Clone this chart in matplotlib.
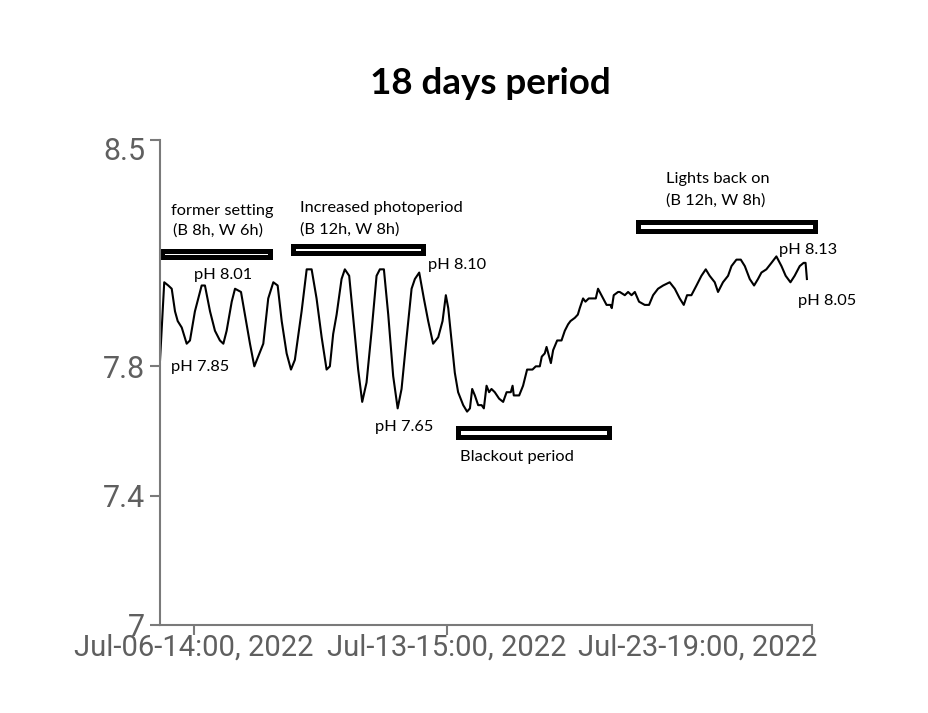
import matplotlib
matplotlib.use("Agg")
import matplotlib.pyplot as plt
import matplotlib.dates as mdates
from matplotlib.patches import Rectangle
from matplotlib.transforms import ScaledTranslation
from datetime import datetime, timedelta

# ---- data ----
start_time = datetime(2022, 7, 5, 15, 0)
hours = [0.3, 3.1, 5.8, 8.1, 10.3, 12.1, 14.8, 18.1, 20.3, 23.6, 28.1, 30.3, 33.7, 37.0,
         40.3, 42.6, 44.8, 48.2, 50.4, 54.4, 57.0, 60.4, 63.3, 65.9, 69.3, 72.6, 76.0, 78.9,
         81.6, 84.9, 87.8, 90.4, 94.9, 98.3, 101.6, 104.9, 108.3, 111.6, 113.8, 116.0, 118.3,
         121.6, 123.8, 126.7, 129.4, 132.7, 135.4, 138.3, 141.7, 145.0, 147.2, 149.9, 152.8,
         156.1, 159.1, 161.7, 165.1, 168.4, 170.6, 173.5, 176.6, 179.5, 182.8, 186.2, 189.1,
         191.3, 192.9, 195.1, 197.3, 199.5, 202.9, 205.5, 207.4, 208.9, 210.7, 212.9, 215.2,
         216.7, 218.5, 220.2, 221.8, 224.0, 226.9, 229.6, 231.9, 234.7, 235.9, 236.7, 240.3,
         242.9, 245.6, 249.2, 251.4, 254.1, 255.4, 257.4, 258.6, 261.5, 263.0, 265.7, 267.5,
         268.6, 270.8, 273.0, 274.6, 277.5, 279.5, 280.8, 283.0, 284.6, 286.8, 289.7, 291.5,
         293.0, 296.4, 298.7, 301.3, 302.2, 303.5, 306.4, 307.5, 310.9, 313.1, 315.4, 317.6,
         320.4, 324.2, 327.1, 329.8, 333.1, 336.5, 340.9, 344.3, 347.6, 350.3, 352.5, 355.4,
         358.8, 362.1, 365.0, 367.6, 371.0, 373.2, 376.5, 379.9, 382.2, 385.5, 388.4, 391.1,
         394.4, 397.3, 399.9, 402.2, 405.5, 408.9, 412.2, 415.6, 418.4, 421.6, 424.4, 427.8,
         430.4, 431.7, 432.6]
ph = [7.82, 8.06, 8.05, 8.04, 7.97, 7.94, 7.92, 7.87, 7.88, 7.97, 8.05, 8.05, 7.97, 7.91,
      7.88, 7.87, 7.91, 8.00, 8.04, 8.03, 7.96, 7.87, 7.80, 7.83, 7.87, 8.01, 8.06, 8.05,
      7.94, 7.84, 7.79, 7.82, 7.97, 8.10, 8.10, 8.01, 7.89, 7.79, 7.80, 7.90, 7.96,
      8.07, 8.10, 8.08, 7.95, 7.79, 7.69, 7.75, 7.91, 8.08, 8.10, 8.10, 7.96,
      7.77, 7.67, 7.73, 7.89, 8.04, 8.07, 8.09, 8.01, 7.94, 7.87, 7.89, 7.94,
      8.02, 7.98, 7.88, 7.78, 7.72, 7.68, 7.66, 7.67, 7.73, 7.71, 7.68, 7.68,
      7.67, 7.74, 7.72, 7.73, 7.72, 7.70, 7.69, 7.72, 7.72, 7.74, 7.71, 7.71,
      7.74, 7.79, 7.79, 7.80, 7.80, 7.83, 7.84, 7.86, 7.81, 7.85, 7.88, 7.88,
      7.88, 7.91, 7.93, 7.94, 7.95, 7.96, 7.98, 8.01, 8.00, 8.01, 8.01, 8.01,
      8.04, 8.01, 7.99, 7.99, 7.98, 8.02, 8.03, 8.03, 8.02, 8.03, 8.02, 8.03,
      8.00, 7.99, 7.99, 8.02, 8.04, 8.05, 8.06, 8.04, 8.01, 7.99, 8.02, 8.02,
      8.05, 8.08, 8.10, 8.08, 8.06, 8.03, 8.06, 8.08, 8.11, 8.13, 8.13, 8.11,
      8.07, 8.05, 8.07, 8.09, 8.10, 8.12, 8.14, 8.11, 8.08, 8.06, 8.08, 8.11,
      8.12, 8.12, 8.07]
tick_times = [datetime(2022, 7, 6, 14, 0), datetime(2022, 7, 13, 15, 0), datetime(2022, 7, 23, 19, 0)]
y_ticks = [7, 7.4, 7.8, 8.5]
y_tick_labels = ["7", "7.4", "7.8", "8.5"]
title = "18 days period"

# period boxes: (start hour, end hour, low pH, high pH)
box_former = (1.9, 74.1, 8.137, 8.158)
box_increased = (89.4, 176.0, 8.149, 8.171)
box_lights = (319.9, 437.8, 8.219, 8.247)
box_blackout = (199.7, 300.2, 7.581, 7.608)

times = [start_time + timedelta(hours=h) for h in hours]

def t(h):
    return mdates.date2num(start_time + timedelta(hours=h))

fig = plt.figure(figsize=(9.29, 7.13), dpi=100)
ax = fig.add_axes([160/929, 1-625/713, 652/929, 485/713])

ax.plot(times, ph, color="black", lw=1.5)

ax.set_ylim(7, 8.5)
ax.set_xlim(t(0.27), t(436))
ax.set_yticks(y_ticks)
ax.set_yticklabels(y_tick_labels)
ax.set_xticks(tick_times)
ax.xaxis.set_major_formatter(mdates.DateFormatter("%b-%d-%H:%M, %Y"))

gray = "#5f5f5f"
for s in ["top", "right"]:
    ax.spines[s].set_visible(False)
for s in ["left", "bottom"]:
    ax.spines[s].set_color("#7a7a7a")
    ax.spines[s].set_linewidth(1.5)
tickfont = ["Roboto", "DejaVu Sans"]
ax.tick_params(axis="both", colors="#7a7a7a", width=1.5, length=7.5, labelcolor=gray)
ax.tick_params(axis="x", labelsize=21, pad=-1.5)
ax.tick_params(axis="y", labelsize=22, pad=3)

xlabels = ax.get_xticklabels()
for lab in xlabels + ax.get_yticklabels():
    lab.set_fontfamily(tickfont)
xlabels[2].set_horizontalalignment("right")
xlabels[2].set_transform(xlabels[2].get_transform() + ScaledTranslation(5/100, 0, fig.dpi_scale_trans))
ylabels = ax.get_yticklabels()
ylabels[3].set_transform(ylabels[3].get_transform() + ScaledTranslation(0, -9/100, fig.dpi_scale_trans))

fig.text(490/929, 1-83/713, title, ha="center", va="center", fontsize=26.5,
         fontweight="bold", family=["Lato", "DejaVu Sans"])

for (h0, h1, p0, p1) in [box_former, box_increased, box_lights, box_blackout]:
    x0 = t(h0); x1 = t(h1)
    ax.add_patch(Rectangle((x0, p0), x1 - x0, p1 - p0, fill=False, ec="black",
                           lw=3.6, clip_on=False))

tf = ["Lato", "DejaVu Sans"]
fs = 11.8
def ptext(xp, yp, s, ha="left"):
    fig.text(xp/929, 1-yp/713, s, ha=ha, va="center", fontsize=fs, family=tf, color="black")

ptext(222, 211, "former setting", ha="center")
ptext(218, 231, "(B 8h, W 6h)", ha="center")
ptext(300, 208, "Increased photoperiod")
ptext(300, 230, "(B 12h, W 8h)")
ptext(223, 275, "pH 8.01", ha="center")
ptext(200, 367, "pH 7.85", ha="center")
ptext(428, 265, "pH 8.10")
ptext(375, 427, "pH 7.65")
ptext(460, 457, "Blackout period")
ptext(666, 179, "Lights back on")
ptext(666, 201, "(B 12h, W 8h)")
ptext(779, 250, "pH 8.13")
ptext(798, 301, "pH 8.05")

fig.savefig("out.png", dpi=100)
